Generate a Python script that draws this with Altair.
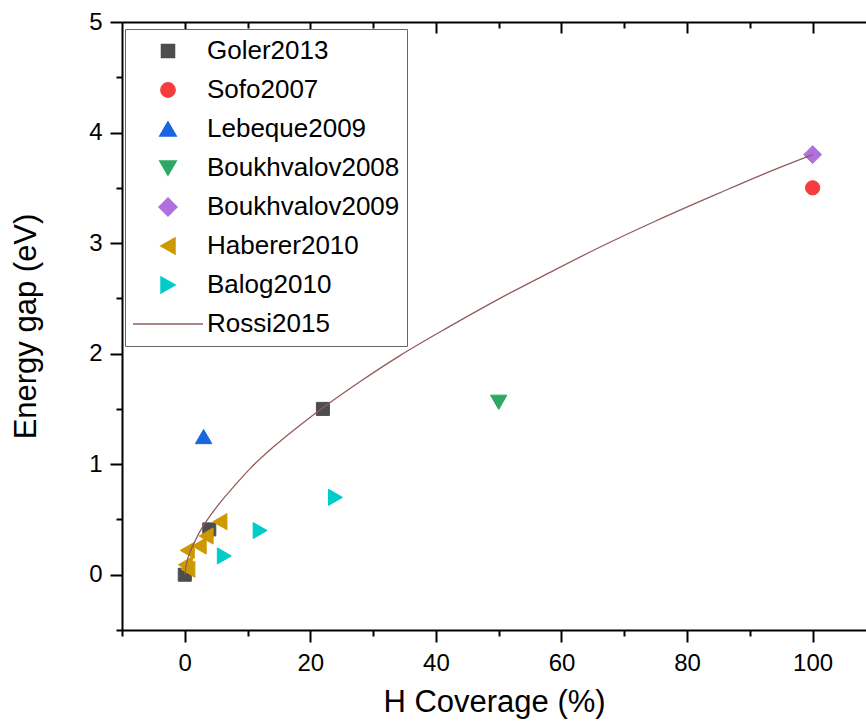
import altair as alt
import pandas as pd

# ---- data ----
series_order = ["Goler2013", "Sofo2007", "Lebeque2009", "Boukhvalov2008",
                "Boukhvalov2009", "Haberer2010", "Balog2010", "Rossi2015"]

goler_x = [0, 3.9, 22]
goler_y = [0, 0.41, 1.5]
sofo_x = [100]
sofo_y = [3.5]
lebeque_x = [3]
lebeque_y = [1.25]
bouk08_x = [50]
bouk08_y = [1.56]
bouk09_x = [100]
bouk09_y = [3.8]
haberer_x = [5.6, 3.4, 2.3, 0.4, 0.1, 0.5]
haberer_y = [0.48, 0.35, 0.26, 0.22, 0.09, 0.05]
balog_x = [6.3, 12, 24]
balog_y = [0.17, 0.4, 0.7]
rossi_x = [0, 0.3, 0.8, 1.5, 2.9, 4, 5.6, 8, 10.4, 14, 18.3, 22, 28, 34.2,
           42, 50.2, 58, 66, 75, 85, 92, 100]
rossi_y = [0, 0.107, 0.2, 0.29, 0.44, 0.53, 0.65, 0.81, 0.96, 1.15, 1.35, 1.51,
           1.75, 1.98, 2.24, 2.5, 2.73, 2.96, 3.2, 3.45, 3.62, 3.8]

x_ticks = [-10, 0, 10, 20, 30, 40, 50, 60, 70, 80, 90, 100]
x_major = [0, 20, 40, 60, 80, 100]
x_minor = [10, 30, 50, 70, 90]
y_ticks = [-0.5, 0, 0.5, 1, 1.5, 2, 2.5, 3, 3.5, 4, 4.5, 5]

# ---- styles ----
colors = ["#4d4d4d", "#f53d3d", "#1a66e0", "#2ea862", "#b070e0",
          "#cc9900", "#00cccc", "#915c5c"]
shapes = ["square", "circle", "triangle-up", "triangle-down", "diamond",
          "triangle-left", "triangle-right", "stroke"]
sizes = [170, 205, 270, 270, 320, 260, 260, 4900]

pts = []
for name, xs_, ys_ in [("Goler2013", goler_x, goler_y), ("Sofo2007", sofo_x, sofo_y),
                       ("Lebeque2009", lebeque_x, lebeque_y),
                       ("Boukhvalov2008", bouk08_x, bouk08_y),
                       ("Boukhvalov2009", bouk09_x, bouk09_y),
                       ("Haberer2010", haberer_x, haberer_y),
                       ("Balog2010", balog_x, balog_y)]:
    for a, b in zip(xs_, ys_):
        pts.append({"series": name, "x": a, "y": b})
pts_df = pd.DataFrame(pts)
line_df = pd.DataFrame({"series": "Rossi2015", "x": rossi_x, "y": rossi_y})

FONT = "Liberation Sans"
xdom = [-10, 108.5]
ydom = [-0.5, 5]


def xs():
    return alt.Scale(domain=xdom, nice=False, zero=False)


def ys():
    return alt.Scale(domain=ydom, nice=False, zero=False)


legend = alt.Legend(
    title=None, orient="none", legendX=3, legendY=7,
    strokeColor="#666666", fillColor="white", padding=7,
    labelFont=FONT, labelFontSize=26, labelColor="black", labelLimit=400,
    labelOffset=3, rowPadding=9, clipHeight=30, symbolStrokeWidth=1.5,
)

fill_scale = alt.Scale(domain=series_order, range=colors)
stroke_scale = alt.Scale(domain=series_order, range=colors)
shape_scale = alt.Scale(domain=series_order, range=shapes)
size_scale = alt.Scale(type="ordinal", domain=series_order, range=sizes)

bottom_axis = alt.Axis(
    orient="bottom", values=x_ticks, title="H Coverage (%)",
    labelExpr="datum.value % 20 === 0 ? format(datum.value, 'd') : ''",
    tickSize={"condition": {"test": "datum.value % 20 === 0", "value": 12}, "value": 6},
    tickWidth=2, tickColor="black", domainColor="black", domainWidth=2,
    labelFont=FONT, labelFontSize=24, labelColor="black", labelPadding=9,
    titleFont=FONT, titleFontSize=31, titleFontWeight="normal", titleColor="black",
    titlePadding=12, grid=False,
)
left_axis = alt.Axis(
    orient="left", values=y_ticks, title="Energy gap (eV)",
    labelExpr="datum.value % 1 === 0 ? format(datum.value, 'd') : ''",
    tickSize={"condition": {"test": "datum.value % 1 === 0", "value": 12}, "value": 6},
    tickWidth=2, tickColor="black", domainColor="black", domainWidth=2,
    labelFont=FONT, labelFontSize=24, labelColor="black", labelPadding=8,
    titleFont=FONT, titleFontSize=31, titleFontWeight="normal", titleColor="black",
    titlePadding=46, grid=False,
)
top_domain_axis = alt.Axis(
    orient="top", title=None, labels=False, ticks=False, grid=False,
    domainColor="black", domainWidth=2,
)
top_major_axis = alt.Axis(
    orient="top", values=x_major, title=None, labels=False, domain=False, grid=False,
    tickSize=11, tickWidth=2, tickColor="black", offset=-11,
)
top_minor_axis = alt.Axis(
    orient="top", values=x_minor, title=None, labels=False, domain=False, grid=False,
    tickSize=6, tickWidth=2, tickColor="black", offset=-6,
)

line = alt.Chart(line_df).mark_line(strokeWidth=1.3, interpolate="monotone").encode(
    x=alt.X("x:Q", scale=xs(), axis=bottom_axis),
    y=alt.Y("y:Q", scale=ys(), axis=left_axis),
    stroke=alt.Stroke("series:N", scale=stroke_scale, legend=legend),
)

points = alt.Chart(pts_df).mark_point(filled=True, opacity=1, strokeWidth=1).encode(
    x=alt.X("x:Q", scale=xs(), axis=top_domain_axis),
    y=alt.Y("y:Q", scale=ys(), axis=left_axis),
    fill=alt.Fill("series:N", scale=fill_scale, legend=legend),
    stroke=alt.Stroke("series:N", scale=stroke_scale, legend=legend),
    shape=alt.Shape("series:N", scale=shape_scale, legend=legend),
    size=alt.Size("series:N", scale=size_scale, legend=legend),
)

ghost_major = alt.Chart(line_df).mark_point(opacity=0).encode(
    x=alt.X("x:Q", scale=xs(), axis=top_major_axis),
    y=alt.Y("y:Q", scale=ys(), axis=left_axis),
)
ghost_minor = alt.Chart(line_df).mark_point(opacity=0).encode(
    x=alt.X("x:Q", scale=xs(), axis=top_minor_axis),
    y=alt.Y("y:Q", scale=ys(), axis=left_axis),
)

chart = alt.layer(ghost_major, ghost_minor, points, line).resolve_axis(
    x="independent"
).properties(
    width=744, height=608,
    autosize=alt.AutoSizeParams(type="none"),
    padding={"left": 122, "top": 22, "right": 0, "bottom": 94},
).configure_view(stroke=None).configure(background="white")

chart.save("out.html", embed_options={"renderer": "svg", "actions": False})
